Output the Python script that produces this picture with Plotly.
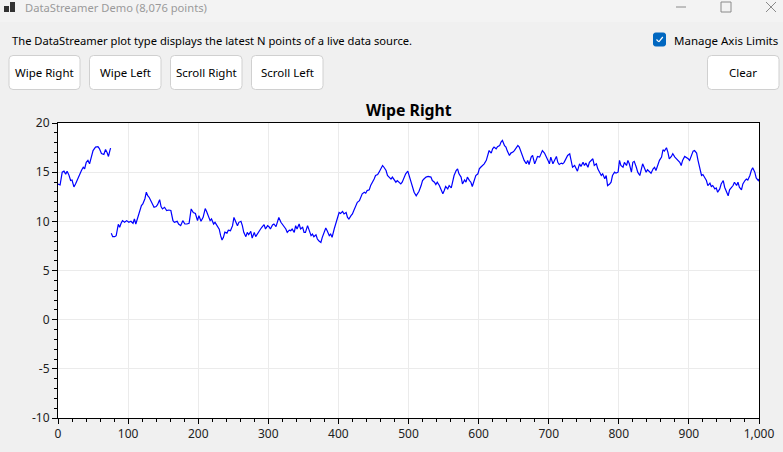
"""
DataStreamer demo window rebuilt with Plotly: a 'Wipe Right' stream of
~1000 samples drawn as two line pieces, plus the window chrome around it.
"""

import plotly.graph_objects as go

W, H = 783, 452
M_L, M_R, M_T, M_B = 58, 24, 123, 34
PLOT_W = W - M_L - M_R
PLOT_H = H - M_T - M_B

UI_FONT = "Noto Sans, Open Sans, sans-serif"

# newest samples (written left of the wipe cursor)
new_x = [0, 3, 6, 8.5, 11, 13, 15.6, 18, 20, 22.7, 25, 28.4, 31, 33.6, 36, 38,
         40.3, 42.7, 45, 47.4, 50, 53.5, 57, 59, 62, 65.4, 67.8, 70, 72, 74, 75]
new_y = [13.8, 13.7, 15.0, 15.1, 14.8, 15.1, 14.7, 14.15, 14.2, 13.5, 13.8, 14.4,
         14.7, 15.2, 15.5, 15.35, 16.0, 16.2, 15.85, 16.6, 17.2, 17.55, 17.6, 17.4,
         16.9, 16.8, 17.3, 17.0, 16.6, 17.2, 17.45]

# oldest samples still on screen (right of the wipe cursor)
old_x = [76, 78, 81, 83, 86, 88, 90, 92, 95, 98, 101, 104, 107, 109, 111, 114,
         117, 119, 121, 124, 126, 128, 130, 133, 135, 137, 140, 142, 145, 147, 149,
         152, 155, 158, 161, 164, 166, 170, 172, 175, 178, 181, 184, 187, 190, 193,
         196, 199, 201, 204, 207, 210, 212, 215, 217, 219, 222, 224, 228, 230, 232,
         234, 236, 238, 241, 243, 246, 249, 251, 254, 256, 258, 261, 263, 265, 268,
         270, 272, 275, 277, 280, 282, 284, 287, 289, 291, 294, 296, 299, 301, 303,
         306, 308, 311, 313, 315, 318, 320, 322, 325, 327, 330, 332, 334, 337, 339,
         341, 344, 346, 349, 351, 353, 356, 358, 361, 363, 365, 368, 370, 372, 375,
         377, 380, 382, 384, 387, 389, 391, 394, 396, 399, 401, 403, 406, 408, 411,
         413, 415, 418, 420, 422, 425, 427, 430, 432, 434, 437, 439, 441, 444, 446,
         449, 451, 453, 456, 458, 461, 463, 465, 468, 470, 472, 475, 477, 480, 482,
         484, 487, 489, 491, 494, 496, 499, 501, 503, 506, 508, 511, 513, 515, 518,
         520, 522, 525, 528, 532, 534, 537, 539, 541, 544, 546, 549, 551, 553, 556,
         558, 561, 563, 565, 568, 570, 572, 575, 577, 580, 582, 584, 587, 589, 591,
         594, 596, 599, 601, 603, 606, 608, 611, 613, 615, 618, 620, 622, 625, 627,
         630, 632, 634, 637, 639, 641, 644, 646, 649, 651, 653, 656, 658, 661, 663,
         665, 668, 670, 672, 675, 677, 680, 682, 684, 687, 689, 691, 694, 696, 699,
         701, 703, 706, 708, 711, 713, 715, 718, 720, 722, 725, 727, 730, 732, 734,
         737, 739, 741, 744, 746, 749, 751, 753, 756, 758, 761, 763, 765, 768, 770,
         772, 775, 777, 780, 782, 784, 787, 789, 791, 794, 796, 799, 801, 803, 806,
         808, 811, 813, 815, 818, 820, 822, 825, 827, 830, 832, 834, 837, 839, 841,
         844, 846, 849, 851, 853, 856, 858, 861, 863, 865, 868, 870, 872, 875, 877,
         880, 882, 884, 887, 889, 891, 894, 896, 899, 901, 903, 906, 908, 911, 913,
         915, 918, 920, 922, 925, 927, 930, 932, 934, 937, 939, 941, 944, 946, 949,
         951, 953, 956, 958, 961, 963, 965, 968, 970, 972, 975, 977, 980, 982, 984,
         987, 989, 991, 994, 996, 999, 1000]
old_y = [8.78, 8.44, 8.44, 8.54, 9.7, 9.4, 9.8, 10.07, 9.9, 10.07, 9.9, 10.0, 9.8,
         10.24, 9.73, 10.4, 11.1, 11.6, 11.77, 12.3, 12.96, 12.6, 12.45, 11.94, 11.77,
         11.43, 11.5, 11.7, 12.2, 11.5, 11.26, 11.43, 11.1, 11.15, 11.1, 10.07, 9.9,
         10.0, 9.73, 9.56, 10.07, 9.73, 9.73, 9.8, 11.26, 10.9, 10.8, 10.07, 10.58,
         10.0, 10.4, 11.3, 11.0, 10.4, 10.07, 10.24, 9.73, 9.9, 9.4, 9.2, 8.54, 8.1,
         8.37, 8.9, 8.8, 9.1, 9.05, 9.56, 10.4, 9.9, 9.56, 9.9, 10.0, 9.56, 8.88, 8.44,
         8.88, 8.64, 8.98, 8.3, 8.88, 8.44, 8.7, 9.05, 9.22, 9.4, 9.66, 9.22, 9.56,
         9.46, 9.22, 9.63, 9.73, 9.46, 9.9, 10.4, 9.9, 9.73, 9.56, 9.22, 8.88, 9.1,
         9.05, 9.22, 8.88, 9.56, 9.22, 9.73, 9.22, 9.4, 8.88, 8.88, 9.56, 9.22, 8.54,
         8.7, 8.44, 8.64, 8.2, 8.03, 7.86, 8.37, 8.88, 9.32, 9.05, 8.54, 8.7, 8.37,
         9.22, 9.73, 10.58, 10.9, 10.8, 11.0, 10.75, 10.9, 10.4, 10.24, 10.58, 10.75,
         11.1, 11.6, 11.94, 12.1, 12.45, 12.8, 12.96, 12.86, 13.13, 13.2, 13.64, 13.98,
         14.3, 14.66, 14.76, 15.0, 15.34, 15.68, 15.5, 15.17, 14.66, 14.5, 14.3, 14.5,
         14.15, 13.98, 14.15, 13.88, 13.8, 13.98, 14.5, 14.83, 15.1, 14.66, 14.15,
         13.47, 12.96, 12.6, 12.8, 13.06, 13.64, 14.15, 14.3, 14.5, 14.56, 14.5, 14.15,
         13.98, 13.74, 13.98, 13.64, 13.3, 12.8, 13.13, 13.54, 13.3, 13.64, 13.4, 13.98,
         14.66, 15.17, 15.34, 14.83, 14.5, 13.8, 14.2, 13.98, 14.5, 14.15, 13.98, 13.54,
         14.3, 14.66, 14.83, 15.34, 15.5, 15.68, 15.85, 16.2, 16.7, 17.2, 16.94, 17.38,
         17.55, 17.38, 17.6, 17.7, 18.06, 18.23, 17.7, 17.55, 17.14, 16.7, 16.94, 17.04,
         17.2, 17.38, 17.72, 17.55, 16.87, 16.6, 16.2, 15.85, 16.2, 15.78, 16.53, 16.7,
         15.85, 16.2, 16.6, 16.53, 16.94, 17.2, 16.94, 16.7, 16.2, 15.85, 16.53, 15.85,
         16.2, 16.6, 16.0, 15.78, 15.92, 15.85, 16.0, 16.36, 16.7, 16.87, 16.26, 15.5,
         15.68, 15.34, 15.1, 15.85, 15.58, 16.0, 15.68, 15.92, 15.5, 16.0, 16.2, 16.36,
         15.68, 15.85, 15.34, 15.0, 14.66, 14.83, 14.32, 14.66, 13.64, 13.8, 13.98,
         14.66, 15.0, 14.9, 15.0, 16.2, 15.68, 15.5, 16.0, 15.68, 16.2, 15.85, 15.0,
         16.0, 16.1, 15.5, 15.0, 14.66, 15.34, 15.85, 15.34, 15.0, 15.24, 15.0, 14.9,
         15.34, 15.5, 15.17, 15.85, 16.2, 16.53, 17.28, 17.14, 17.48, 17.04, 16.36,
         16.6, 16.87, 16.53, 16.36, 16.2, 16.0, 15.68, 16.2, 16.6, 16.53, 16.36, 16.2,
         16.6, 17.14, 17.2, 16.94, 16.2, 15.5, 14.66, 14.76, 14.5, 14.15, 13.64, 13.88,
         13.54, 13.64, 13.3, 13.4, 12.96, 13.3, 13.8, 14.15, 13.47, 13.06, 12.6, 13.2,
         13.47, 13.64, 13.98, 13.64, 13.98, 13.47, 13.2, 13.8, 14.15, 14.3, 14.2, 14.66,
         15.17, 15.44, 15.0, 14.42, 14.15, 14.3]

buttons_left = ["Wipe Right", "Wipe Left", "Scroll Right", "Scroll Left"]
x_ticks = [0, 100, 200, 300, 400, 500, 600, 700, 800, 900, 1000]
y_ticks = [-10, -5, 0, 5, 10, 15, 20]


def px(x):
    """Window pixel x -> paper x."""
    return (x - M_L) / PLOT_W


def py(y):
    """Window pixel y (from top) -> paper y."""
    return (H - M_B - y) / PLOT_H


def rounded_rect(x0, y0, x1, y1, r=4, fill="white", line="#d0d0d0"):
    """Rounded rectangle in window pixels as a paper-referenced path shape."""
    rx, ry = r / PLOT_W, r / PLOT_H
    a, b, c, d = px(x0), py(y0), px(x1), py(y1)
    path = (
        f"M {a + rx},{b} L {c - rx},{b} Q {c},{b} {c},{b - ry} "
        f"L {c},{d + ry} Q {c},{d} {c - rx},{d} L {a + rx},{d} "
        f"Q {a},{d} {a},{d + ry} L {a},{b - ry} Q {a},{b} {a + rx},{b} Z"
    )
    return dict(type="path", xref="paper", yref="paper", path=path,
                fillcolor=fill, line=dict(color=line, width=1), layer="above")


def rect(x0, y0, x1, y1, fill, line_color=None, width=0):
    return dict(type="rect", xref="paper", yref="paper",
                x0=px(x0), x1=px(x1), y0=py(y1), y1=py(y0),
                fillcolor=fill, line=dict(color=line_color or fill, width=width),
                layer="below")


def segment(x0, y0, x1, y1, color, width=1):
    return dict(type="line", xref="paper", yref="paper",
                x0=px(x0), y0=py(y0), x1=px(x1), y1=py(y1),
                line=dict(color=color, width=width), layer="above")


def label(text, x, y, size=12, color="#000", anchor="left", bold=False):
    if bold:
        text = f"<b>{text}</b>"
    return dict(text=text, x=px(x), y=py(y), xref="paper", yref="paper",
                xanchor=anchor, yanchor="middle", showarrow=False,
                font=dict(family=UI_FONT, size=size, color=color))


fig = go.Figure()
fig.add_trace(go.Scatter(x=new_x + [None] + old_x, y=new_y + [None] + old_y,
                         mode="lines", line=dict(color="#0000ff", width=1.2),
                         connectgaps=False, hoverinfo="skip"))

shapes = [
    rect(0, 0, W, 22, "#f3f3f3"),
    # window icon
    rect(4, 6, 9, 12, "#333333"),
    rect(10, 2, 15, 12, "#333333"),
    # window buttons
    segment(676, 7, 686, 7, "#8a8a8a"),
    dict(type="rect", xref="paper", yref="paper", x0=px(721), x1=px(731),
         y0=py(12), y1=py(2), line=dict(color="#8a8a8a", width=1), layer="above"),
    segment(766, 2, 776, 12, "#8a8a8a"),
    segment(766, 12, 776, 2, "#8a8a8a"),
    # checkbox
    rounded_rect(653.5, 33, 665.5, 46, r=2, fill="#0067c0", line="#0067c0"),
    segment(656.5, 39.5, 658.8, 41.8, "white", 1.2),
    segment(658.8, 41.8, 662.8, 37, "white", 1.2),
]

btn_x = [(9, 80), (89.5, 161), (170.5, 242), (251.5, 323)]
annotations = [
    label("DataStreamer Demo (8,076 points)", 23, 8, size=11.2, color="#9a9a9a"),
    label("The DataStreamer plot type displays the latest N points of a live data source.",
          10, 40, size=11.2),
    label("Manage Axis Limits", 672, 40, size=11.5),
    label("Wipe Right", (M_L + W - M_R) / 2, 110, size=15.8, anchor="center", bold=True),
]
for name, (x0, x1) in zip(buttons_left, btn_x):
    shapes.append(rounded_rect(x0, 55.5, x1, 89.5))
    annotations.append(label(name, (x0 + x1) / 2, 72.5, size=11.5, anchor="center"))
shapes.append(rounded_rect(707.5, 55.5, 779, 89.5))
annotations.append(label("Clear", 743.25, 72.5, size=11.5, anchor="center"))

axis_common = dict(
    showline=True, linecolor="black", linewidth=1, mirror=True,
    ticks="outside", ticklen=5, tickcolor="black", tickwidth=1,
    showgrid=True, gridcolor="#ebebeb", gridwidth=1, zeroline=False,
    automargin=False,
    tickfont=dict(family=UI_FONT, size=12, color="#222"),
)

fig.update_xaxes(range=[0, 1000], tickvals=x_ticks,
                 ticktext=[f"{v:,}" for v in x_ticks],
                 minor=dict(dtick=20, ticks="outside", ticklen=3,
                            tickcolor="black", showgrid=False),
                 **axis_common)
fig.update_yaxes(range=[-10, 20], tickvals=y_ticks,
                 ticktext=[str(v) for v in y_ticks],
                 minor=dict(dtick=1, ticks="outside", ticklen=3,
                            tickcolor="black", showgrid=False),
                 **axis_common)

fig.update_layout(
    width=W, height=H, autosize=False,
    margin=dict(l=M_L, r=M_R, t=M_T, b=M_B, pad=0),
    paper_bgcolor="#f0f0f0", plot_bgcolor="white",
    showlegend=False,
    shapes=shapes,
    annotations=annotations,
)

# the page body has a default 8px margin; drop it so the window fills the view
fig.write_html("out.html", config={"displayModeBar": False},
               post_script="document.body.style.margin='0';")
